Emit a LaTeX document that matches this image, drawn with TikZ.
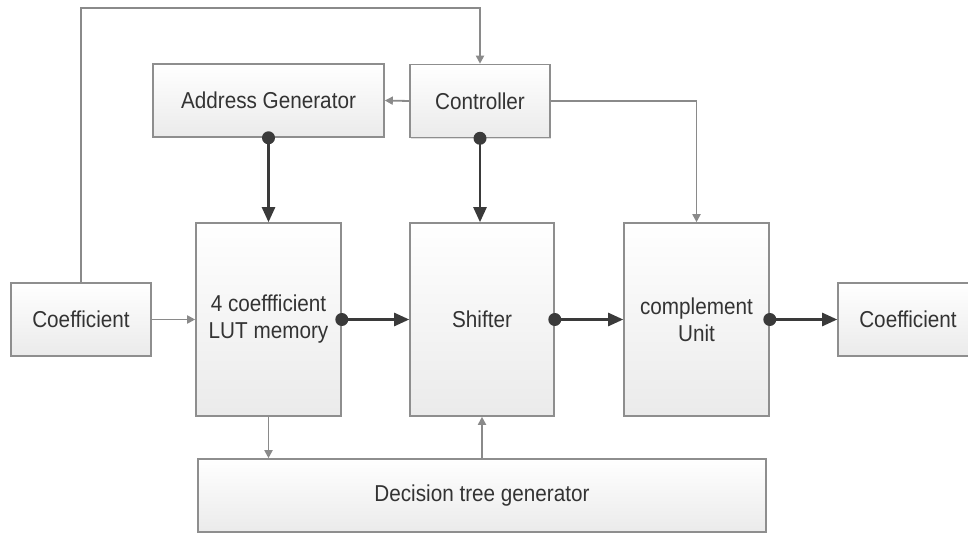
\documentclass[tikz,border=0pt]{standalone}
\usepackage{fontspec}
\setmainfont{Liberation Sans}[FakeStretch=0.9]
\usetikzlibrary{arrows.meta,shadows}
\definecolor{boxline}{HTML}{8E8E8E}
\definecolor{thick}{HTML}{3A3A3A}
\definecolor{thin}{HTML}{8A8A8A}
\definecolor{txt}{HTML}{333333}
\begin{document}
\begin{tikzpicture}[x=1pt,y=1pt,
  blk/.style={draw=boxline, line width=1.6pt, top color=white, bottom color=black!8,
    inner sep=0pt, align=center, text=txt,
    font=\fontsize{23}{27}\selectfont,
    drop shadow={shadow xshift=1.2pt, shadow yshift=-1.2pt, opacity=0.25}},
  thinarrow/.style={draw=thin, line width=1.8pt, -{Triangle[length=8pt,width=8pt]}},
  thickarrow/.style={draw=thick, line width=2.4pt, -{Triangle[length=15pt,width=13pt]}},
  dot/.style={fill=thick}
]
\useasboundingbox (0,0) rectangle (968,533);
\fill[white] (0,0) rectangle (968,533);
% boxes (y = 533 - image y)
\node[blk, minimum width=140pt, minimum height=73pt] (coefL) at (81,213.5) {Coefficient};
\node[blk, minimum width=145pt, minimum height=193pt] (lut) at (268.5,213.5) {4 coeffficient\\LUT memory};
\node[blk, minimum width=144pt, minimum height=193pt] (shift) at (482,213.5) {Shifter};
\node[blk, minimum width=145pt, minimum height=193pt] (comp) at (696.5,213.5) {complement\\Unit};
\node[blk, minimum width=140pt, minimum height=73pt] (coefR) at (908,213.5) {Coefficient};
\node[blk, minimum width=568pt, minimum height=73pt] (dec) at (482,37.5) {Decision tree generator};
\node[blk, minimum width=231pt, minimum height=73pt] (addr) at (268.5,432.5) {Address Generator};
\node[blk, minimum width=140pt, minimum height=73pt] (ctrl) at (480,432) {Controller};
\coordinate (loop) at (280,525);
% thin connectors
\draw[thinarrow] (coefL.north) |- (loop) -| (ctrl.north);
\draw[thinarrow] (ctrl.west) -- (addr.east);
\draw[thinarrow] (ctrl.east) -| (comp.north);
\draw[thinarrow] (coefL.east) -- (lut.west);
\draw[thinarrow] (lut.south) -- (lut.south |- dec.north);
\draw[thinarrow] (dec.north) -- (shift.south);
% thick connectors
\draw[thickarrow] (addr.south) -- (addr.south |- lut.north);
\draw[thickarrow] (ctrl.south) -- (ctrl.south |- shift.north);
\draw[thickarrow] (lut.east) -- (shift.west);
\draw[thickarrow] (shift.east) -- (comp.west);
\draw[thickarrow] (comp.east) -- (coefR.west);
\fill[dot] (addr.south) circle (6.5pt);
\fill[dot] (ctrl.south) circle (6.5pt);
\fill[dot] (lut.east) circle (6.5pt);
\fill[dot] (shift.east) circle (6.5pt);
\fill[dot] (comp.east) circle (6.5pt);
\end{tikzpicture}
\end{document}
